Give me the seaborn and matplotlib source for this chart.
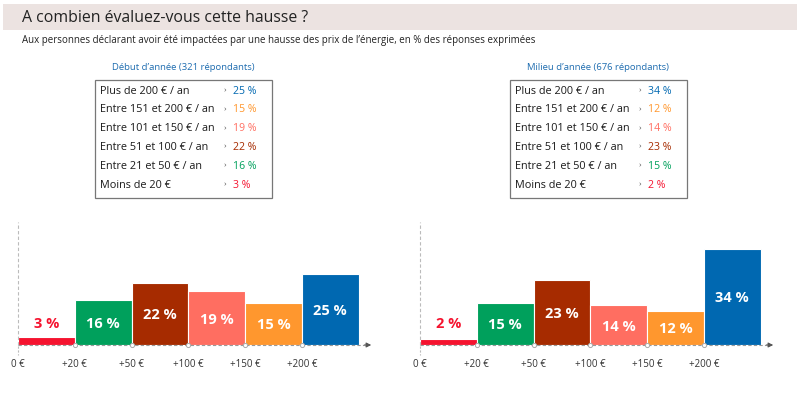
import numpy as np
import pandas as pd
import matplotlib
matplotlib.use("Agg")
import matplotlib.pyplot as plt
import matplotlib.patches as mpatches
import seaborn as sns

sns.set_theme(style="white")
plt.rcParams["font.family"] = ["Open Sans", "DejaVu Sans"]

# -----------------------------
# Data
# -----------------------------
tranches = ["0-20", "21-50", "51-100", "101-150", "151-200", "200+"]
edge_labels = ["0 €", "+20 €", "+50 €", "+100 €", "+150 €", "+200 €"]
debut_vals = [3, 16, 22, 19, 15, 25]
milieu_vals = [2, 15, 23, 14, 12, 34]
bar_colors = ["#f5132f", "#00a05c", "#a62b00", "#ff6e61", "#ff972e", "#0068b1"]

row_labels = ["Plus de 200 € / an", "Entre 151 et 200 € / an", "Entre 101 et 150 € / an",
              "Entre 51 et 100 € / an", "Entre 21 et 50 € / an", "Moins de 20 €"]
panel_titles = ["Début d’année (321 répondants)", "Milieu d’année (676 répondants)"]

title = "A combien évaluez-vous cette hausse ?"
subtitle = ("Aux personnes déclarant avoir été impactées par une hausse des prix de l’énergie, "
            "en % des réponses exprimées")

W, H = 800, 393
fig = plt.figure(figsize=(W / 100, H / 100), dpi=100)

# overlay in pixel coordinates for header & tables
bg = fig.add_axes([0, 0, 1, 1])
bg.set_xlim(0, W)
bg.set_ylim(H, 0)
bg.axis("off")
bg.add_patch(mpatches.Rectangle((3, 4), 794, 26, facecolor="#ece3e1", edgecolor="none"))
bg.text(22, 17.5, title, fontsize=11.4, color="#222222", va="center", ha="left")
bg.text(22, 40.5, subtitle, fontsize=7.0, color="#222222", va="center", ha="left")


def draw_table(x0, values, ttl):
    bg.text(x0 + 88, 67, ttl, fontsize=6.8, color="#1f6db0", ha="center", va="center")
    bg.add_patch(mpatches.Rectangle((x0, 80), 177, 118, facecolor="white",
                                    edgecolor="#777777", linewidth=0.9))
    colors_top = bar_colors[::-1]
    vals_top = values[::-1]
    for i, lab in enumerate(row_labels):
        y = 91 + i * 18.8
        bg.text(x0 + 5, y, lab, fontsize=7.8, color="#1a1a1a", va="center", ha="left")
        bg.text(x0 + 129, y, "›", fontsize=6, color="#555555", va="center", ha="left")
        bg.text(x0 + 138, y, f"{vals_top[i]} %", fontsize=7.6, color=colors_top[i],
                va="center", ha="left")


draw_table(95, debut_vals, panel_titles[0])
draw_table(510, milieu_vals, panel_titles[1])


def draw_chart(left_px, values):
    ax = fig.add_axes([left_px / W, 48 / H, 356 / W, 123 / H])
    df = pd.DataFrame({"tranche": tranches, "pct": values})
    sns.barplot(data=df, x="tranche", y="pct", hue="tranche", order=tranches,
                hue_order=tranches, palette=bar_colors, saturation=1, width=1.0,
                legend=False, edgecolor="white", linewidth=0.8, ax=ax)
    ax.set_xlim(-0.5, 5.77)
    ax.set_ylim(0, 43.5)
    for s in ax.spines.values():
        s.set_visible(False)
    ax.set_xlabel("")
    ax.set_ylabel("")
    ax.set_yticks([])
    ax.set_xticks(np.arange(len(edge_labels)) - 0.5)
    ax.set_xticklabels(edge_labels, fontsize=7, color="#333333")
    ax.tick_params(axis="x", length=0, pad=10)
    # axes lines
    ax.plot([-0.5, -0.5], [0, 43.5], ls=(0, (3, 2)), color="#bbbbbb", lw=0.8, clip_on=False)
    ax.plot([-0.5, 5.6], [0, 0], ls=(0, (3, 2)), color="#999999", lw=0.8, clip_on=False, zorder=1)
    ax.annotate("", xy=(5.77, 0), xytext=(5.55, 0),
                arrowprops=dict(arrowstyle="-|>", color="#555555", lw=0.8,
                                mutation_scale=7), annotation_clip=False)
    ax.plot([-0.5, -0.5], [-0.5, -3.5], ls=(0, (2, 1.5)), color="#bbbbbb", lw=0.8, clip_on=False)
    ax.scatter(np.arange(1, len(edge_labels)) - 0.5, np.zeros(len(edge_labels) - 1), s=9,
               facecolor="white", edgecolor="#aaaaaa", linewidth=0.7, zorder=5, clip_on=False)
    for i, v in enumerate(values):
        if v < 8:
            ax.text(i, 7.5, f"{v} %", color=bar_colors[i], fontsize=10.5, fontweight="bold",
                    ha="center", va="center")
        else:
            ax.text(i, v / 2 - 0.5, f"{v} %", color="white", fontsize=10.5, fontweight="bold",
                    ha="center", va="center")
    return ax


draw_chart(18, debut_vals)
draw_chart(420, milieu_vals)

fig.savefig("out.png", dpi=100)
